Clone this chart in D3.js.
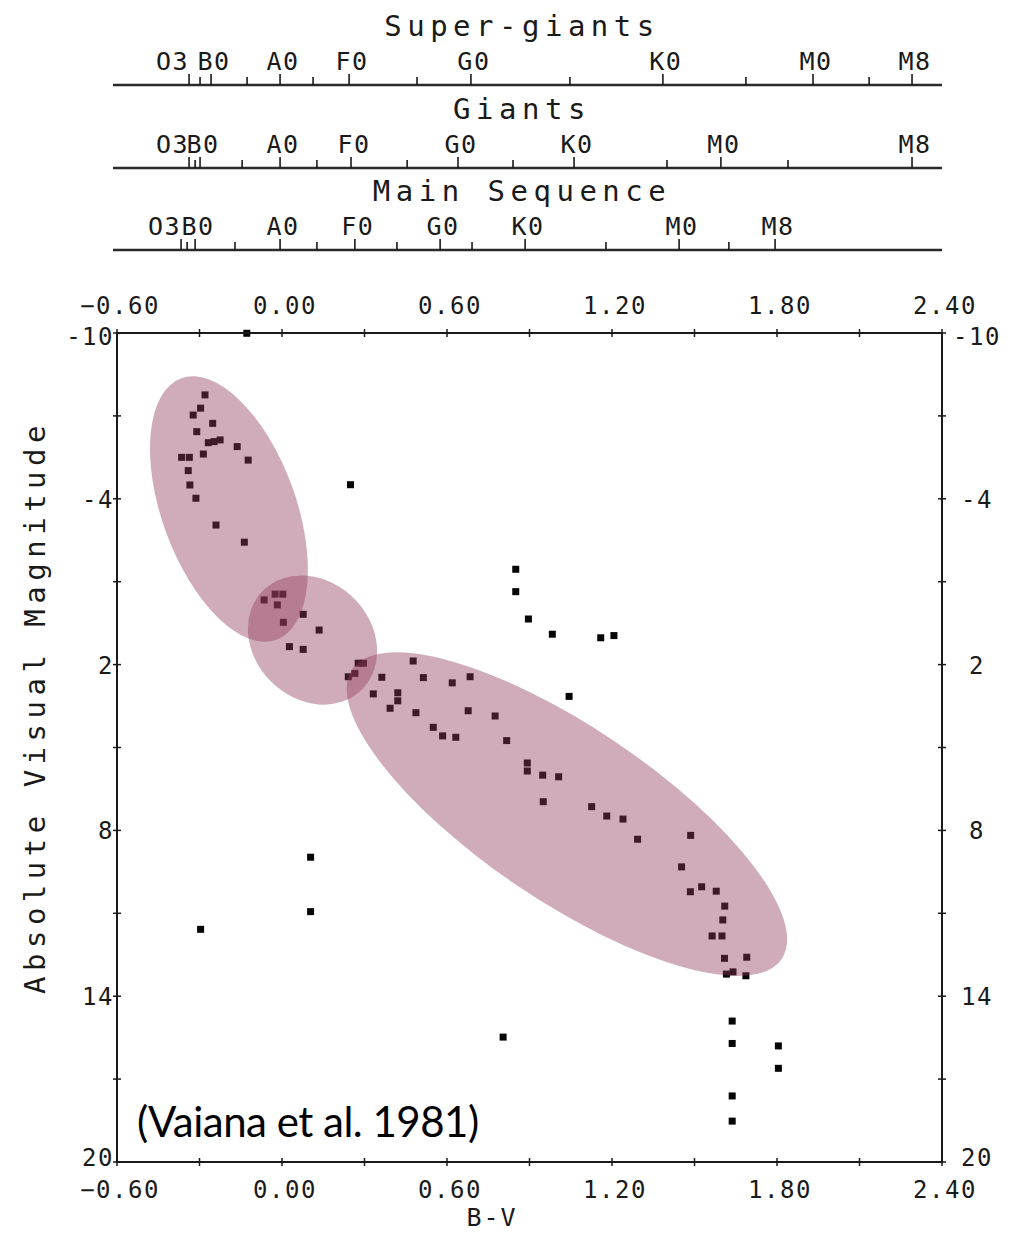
<!DOCTYPE html>
<html>
<head>
<meta charset="utf-8">
<script src="https://cdn.jsdelivr.net/npm/d3@7"></script>
<style>
  body { margin: 0; background: #fff; }
  svg { display: block; }
  .mono { font-family: "DejaVu Sans Mono", "Liberation Mono", monospace; fill: #1a1a1a; }
</style>
</head>
<body>
<svg id="chart" width="1013" height="1234"></svg>
<script>
// ---- B-V colour axis ----
const bvTicks = [-0.6, -0.3, 0, 0.3, 0.6, 0.9, 1.2, 1.5, 1.8, 2.1, 2.4];
const bvLabelValues = [-0.6, 0, 0.6, 1.2, 1.8, 2.4];

// ---- absolute visual magnitude axis ----
const magTicks = [-10, -7, -4, -1, 2, 5, 8, 11, 14, 17, 20];
const magLabelValues = [-10, -4, 2, 8, 14, 20];

// ---- spectral-type scales (B-V of each type) ----
const specNames = ["O3", "B0", "A0", "F0", "G0", "K0", "M0", "M8"];
const superBV = [-0.338, -0.258, -0.007, 0.244, 0.687, 1.385, 1.931, 2.291];
const superMinorBV = [-0.298, -0.127, 0.113, 0.491, 1.047, 1.687, 2.135];
const giantBV = [-0.338, -0.298, -0.007, 0.251, 0.640, 1.062, 1.596, 2.291];
const giantMinorBV = [-0.316, -0.145, 0.127, 0.455, 0.840, 1.400, 1.840];
const msBV = [-0.367, -0.316, -0.007, 0.265, 0.575, 0.884, 1.444, 1.793];
const msMinorBV = [-0.345, -0.171, 0.127, 0.418, 0.691, 1.178, 1.625];
const classTitles = ["Super-giants", "Giants", "Main Sequence"];

// ---- stars: B-V colour and absolute visual magnitude ----
const starBV = [
  -0.280, -0.296, -0.323, -0.252, -0.310, -0.268, -0.247, -0.225, -0.163, -0.286,
  -0.365, -0.337, -0.123, -0.341, -0.335, -0.313, -0.240, -0.137,
  -0.065, -0.025, 0.003, -0.017, 0.077, 0.005, 0.135, 0.027, 0.077,
  0.277, 0.296, 0.241, 0.265,
  0.477, 0.363, 0.514, 0.619, 0.684, 0.332, 0.421, 0.421, 0.393, 0.487,
  0.677, 0.775, 0.550, 0.584, 0.632, 0.817, 0.892, 0.892, 0.948, 1.006,
  0.950, 1.126, 1.181, 1.240, 1.293, 1.486, 1.453, 1.485, 1.526, 1.579,
  1.610, 1.603, 1.564, 1.600, 1.609, 1.690, 1.616, 1.640, 1.687,
  -0.128, 0.249, 0.850, 0.850, 0.896, 0.983, 1.159, 1.207, 1.044,
  0.104, 0.104, -0.296, 0.804, 1.637, 1.637, 1.805, 1.805, 1.637, 1.637
];
const starMag = [
  -7.76, -7.28, -7.03, -6.73, -6.43, -6.03, -6.07, -6.13, -5.89, -5.62,
  -5.50, -5.50, -5.40, -5.02, -4.50, -4.02, -3.05, -2.43,
  -0.34, -0.55, -0.55, -0.16, 0.18, 0.47, 0.75, 1.35, 1.45,
  1.95, 1.95, 2.44, 2.32,
  1.87, 2.46, 2.47, 2.66, 2.44, 3.06, 3.02, 3.31, 3.58, 3.74,
  3.67, 3.86, 4.27, 4.58, 4.63, 4.75, 5.56, 5.85, 6.00, 6.06,
  6.96, 7.14, 7.48, 7.59, 8.32, 8.18, 9.32, 10.22, 10.04, 10.20,
  10.74, 11.24, 11.82, 11.82, 12.63, 12.59, 13.20, 13.12, 13.26,
  -9.99, -4.51, -1.45, -0.64, 0.35, 0.90, 1.03, 0.95, 3.15,
  8.97, 10.94, 11.58, 15.48, 14.90, 15.71, 15.80, 16.61, 17.61, 18.52
];

// ---- highlighted regions: centre, end of the long axis, short/long ratio ----
const regionCentreBV = [-0.193, 0.111, 1.036];
const regionCentreMag = [-3.63, 1.11, 7.41];
const regionTipBV = [-0.020, 0.291, 1.817];
const regionTipMag = [1.10, 2.90, 12.65];
const regionAspect = [0.482, 0.84, 0.336];

const svg = d3.select("#chart");
const W = 1013, H = 1234;
svg.append("rect").attr("width", W).attr("height", H).attr("fill", "#fff");

const plot = { left: 117, right: 942, top: 333, bottom: 1162 };
const x = d3.scaleLinear().domain([-0.6, 2.4]).range([plot.left, plot.right]);
const y = d3.scaleLinear().domain([-10, 20]).range([plot.top, plot.bottom]);

const fmtBV = d3.format(".2f");
const ink = "#1a1a1a";

// ---- spectral type scales above the diagram ----
const specRows = [
  { title: classTitles[0], major: superBV, minor: superMinorBV, line: 85 },
  { title: classTitles[1], major: giantBV, minor: giantMinorBV, line: 168 },
  { title: classTitles[2], major: msBV, minor: msMinorBV, line: 250 }
];
const specAxisLeft = 113;
specRows.forEach(row => {
  const g = svg.append("g");
  g.append("line")
    .attr("x1", specAxisLeft).attr("x2", x(2.4))
    .attr("y1", row.line).attr("y2", row.line)
    .attr("stroke", "#2a2a2a").attr("stroke-width", 2.4);
  g.selectAll("line.maj").data(row.major).join("line")
    .attr("class", "maj")
    .attr("x1", d => x(d)).attr("x2", d => x(d))
    .attr("y1", row.line).attr("y2", row.line - 11)
    .attr("stroke", ink).attr("stroke-width", 1.6);
  g.selectAll("line.min").data(row.minor).join("line")
    .attr("class", "min")
    .attr("x1", d => x(d)).attr("x2", d => x(d))
    .attr("y1", row.line).attr("y2", row.line - 8)
    .attr("stroke", ink).attr("stroke-width", 1.6);
  g.selectAll("text.lab").data(row.major).join("text")
    .attr("class", "lab mono")
    .attr("x", (d, i) => i === 0 ? x(d) : x(d) + 3)
    .attr("y", row.line - 15)
    .attr("text-anchor", (d, i) => i === 0 ? "end" : "middle")
    .attr("font-size", 25)
    .attr("letter-spacing", 1.5)
    .text((d, i) => specNames[i]);
  g.append("text")
    .attr("class", "mono")
    .attr("x", 522).attr("y", row.line - 49)
    .attr("text-anchor", "middle")
    .attr("font-size", 29)
    .attr("letter-spacing", 5.5)
    .text(row.title);
});

// ---- stars (drawn beneath the translucent regions) ----
const size = 7;
svg.append("g").selectAll("rect").data(d3.range(starBV.length)).join("rect")
  .attr("x", i => x(starBV[i]) - size / 2)
  .attr("y", i => y(starMag[i]) - size / 2)
  .attr("width", size).attr("height", size)
  .attr("fill", "#050505");

// ---- translucent regions ----
svg.append("g").selectAll("ellipse").data(d3.range(regionCentreBV.length)).join("ellipse")
  .each(function (i) {
    const cx = x(regionCentreBV[i]), cy = y(regionCentreMag[i]);
    const tx = x(regionTipBV[i]), ty = y(regionTipMag[i]);
    const a = Math.hypot(tx - cx, ty - cy);
    const ang = Math.atan2(ty - cy, tx - cx) * 180 / Math.PI;
    d3.select(this)
      .attr("rx", a).attr("ry", a * regionAspect[i])
      .attr("transform", `translate(${cx},${cy}) rotate(${ang})`);
  })
  .attr("fill", "rgb(143,57,90)")
  .attr("fill-opacity", 0.42);

// ---- frame ----
svg.append("rect")
  .attr("x", plot.left).attr("y", plot.top)
  .attr("width", plot.right - plot.left).attr("height", plot.bottom - plot.top)
  .attr("fill", "none").attr("stroke", ink).attr("stroke-width", 2);

const tk = 4;
const ticks = svg.append("g").attr("stroke", ink).attr("stroke-width", 1.5);
[plot.top, plot.bottom].forEach(yy => {
  ticks.selectAll(null).data(bvTicks).join("line")
    .attr("x1", d => x(d)).attr("x2", d => x(d))
    .attr("y1", yy - tk).attr("y2", yy + tk);
});
[plot.left, plot.right].forEach(xx => {
  ticks.selectAll(null).data(magTicks).join("line")
    .attr("y1", d => y(d)).attr("y2", d => y(d))
    .attr("x1", xx - tk).attr("x2", xx + tk);
});

// tick labels
const lab = svg.append("g").attr("class", "mono").attr("font-size", 24).attr("letter-spacing", 1.5);
[plot.top - 19, plot.bottom + 36].forEach(yy => {
  lab.selectAll(null).data(bvLabelValues).join("text")
    .attr("class", "mono")
    .attr("x", d => x(d) + 3).attr("y", yy)
    .attr("text-anchor", "middle")
    .text(d => fmtBV(d));
});
lab.selectAll(null).data(magLabelValues).join("text")
  .attr("class", "mono")
  .attr("x", plot.left - 3).attr("y", d => y(d) + (d === 20 ? 4 : d === -10 ? 12 : 9))
  .attr("text-anchor", "end")
  .text(d => d);
lab.selectAll(null).data(magLabelValues).join("text")
  .attr("class", "mono")
  .attr("x", plot.right + 35).attr("y", d => y(d) + (d === 20 ? 4 : d === -10 ? 12 : 9))
  .attr("text-anchor", "middle")
  .text(d => d);

// axis titles
svg.append("text")
  .attr("class", "mono")
  .attr("x", 492).attr("y", 1226)
  .attr("text-anchor", "middle")
  .attr("font-size", 25).attr("letter-spacing", 2)
  .text("B-V");
svg.append("text")
  .attr("class", "mono")
  .attr("transform", "translate(45,707) rotate(-90)")
  .attr("text-anchor", "middle")
  .attr("font-size", 29).attr("letter-spacing", 5.5)
  .text("Absolute Visual Magnitude");

// source note
svg.append("text")
  .attr("x", 137).attr("y", 1137)
  .attr("font-family", "Lato, 'Open Sans', sans-serif")
  .attr("font-size", 42)
  .attr("letter-spacing", -0.5)
  .attr("fill", "#000")
  .text("(Vaiana et al. 1981)");
</script>
</body>
</html>
